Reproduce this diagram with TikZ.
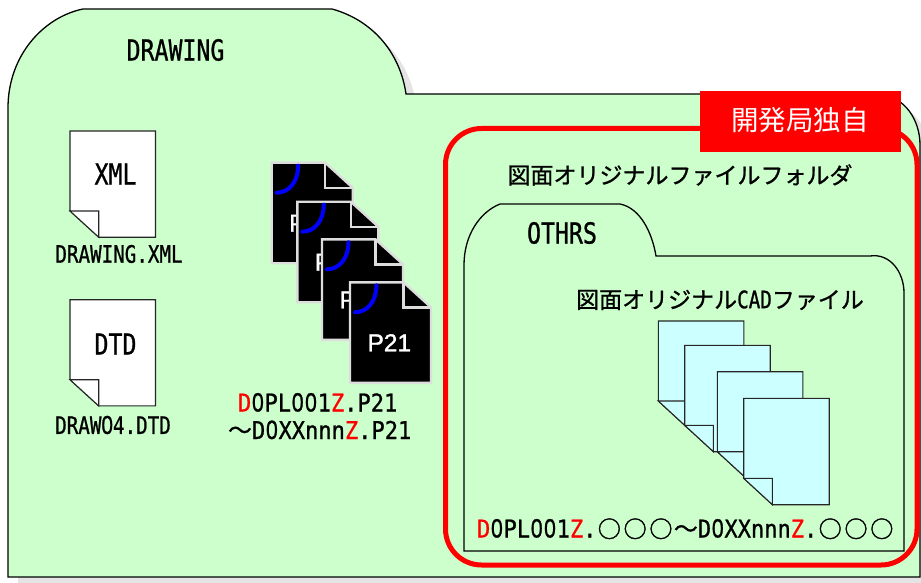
\documentclass[tikz,border=0pt]{standalone}
\usepackage{fontspec}
\setmainfont{Liberation Sans}
\newfontfamily\cjk[FakeBold=1]{Noto Sans CJK JP}
\newfontfamily\cjkc[FakeBold=1.6]{Noto Sans CJK JP}
\newfontfamily\cjkl{Noto Sans CJK JP}
\newfontfamily\hwA[FakeStretch=.8,FakeBold=.9]{DejaVu Sans Mono}
\newfontfamily\hwB[FakeStretch=.9,FakeBold=.9]{DejaVu Sans Mono}
\newfontfamily\zf[FakeStretch=.8,Scale=1.08,FakeBold=.9]{Liberation Sans}
\newfontfamily\pf[FakeBold=1.4]{Liberation Sans}
\newcommand\zr{\setbox0\hbox{0}\hbox to\wd0{\hss{\zf 0}\hss}}
\newcommand\rd[1]{\textcolor{red}{#1}}
\newcommand\fs[1]{\fontsize{#1}{#1}\selectfont}
\newcommand\cir{\hbox to 25.8pt{\hss{\cjkc\fs{23}○}\hss}}
\newcommand\tld{\hbox to 24pt{\hss{\cjk\fs{24}〜}\hss}}
\definecolor{fgreen}{HTML}{CCFFCC}
\definecolor{fblue}{HTML}{CCFFFF}
\definecolor{fshadow}{HTML}{E4E4E4}
\definecolor{pgedge}{HTML}{DDDDDD}
\tikzset{
  folderline/.style={draw=black,line width=1.3pt,fill=fgreen},
  sheetline/.style={draw=black!85,line width=1.1pt},
  txt/.style={inner sep=0pt,outer sep=0pt},
}
% fold-corner sheet: #1 x, #2 y, #3 fill, #4 w, #5 h
\newcommand\sheet[5]{%
  \begin{scope}[shift={(#1,#2)}]
    \path[sheetline,fill=#3] (0,0) -- (#4,0) -- (#4,#5) -- (28.7,#5) -- (0,80) -- cycle;
    \path[sheetline,fill=#3] (0,80) -- (28.7,80) -- (28.7,#5) -- cycle;
  \end{scope}}
% black P21 sheet
\newcommand\psheet[3]{%
  \begin{scope}[shift={(#1,#2)}]
    \path[draw=pgedge,line width=2.4pt,fill=black,line join=miter]
      (0,0) -- (53.5,0) -- (81,25) -- (81,100.5) -- (0,100.5) -- cycle;
    \path[draw=pgedge,line width=2.4pt] (53.5,0) -- (53.5,25) -- (81,25);
    \draw[blue,line width=4pt,line cap=round] (26.5,3) .. controls (26.5,18) and (18,30) .. (5,30);
    \node[txt,text=white,anchor=base west,font=\pf\fs{24.5}] (#3) at (17.5,69) {P21};
  \end{scope}}
\begin{document}
\begin{tikzpicture}[x=1pt,y=-1pt]
\clip (0,0) rectangle (921,583);
\fill[white] (0,0) rectangle (921,583);
% main folder
\def\mainfolder{(8,108) .. controls (8,55) and (44,17) .. (83,9) -- (332,9)
  .. controls (372,20) and (400,52) .. (406,94) -- (880,94)
  .. controls (905,97) and (920,120) .. (920,145) -- (920,577) -- (8,577) -- cycle}
\fill[fshadow,shift={(10,10)}] \mainfolder;
\path[folderline] \mainfolder;
% white sheets
\sheet{70}{131}{white}{85.5}{106.2}
\sheet{70}{299.7}{white}{85.5}{106.2}
\node[txt,font=\hwA\fs{29}] (xml) at (115.5,174) {XML};
\node[txt,font=\hwA\fs{29}] (dtd) at (115.5,344) {DTD};
\node[txt,font=\hwA\fs{24}] (xmlname) at (119,254) {DRAWING.XML};
\node[txt,font=\hwA\fs{24}] (dtdname) at (113,425) {DRAW\zr4.DTD};
\node[txt,font=\hwA\fs{29}] (drawing) at (175.5,50) {DRAWING};
% black sheets
\psheet{271.7}{162.7}{pa}
\psheet{297.3}{201.7}{pb}
\psheet{322}{239.3}{pc}
\psheet{350}{282.3}{pd}
\node[txt,anchor=base west,font=\hwB\fs{24.5}] (pone) at (238,411.5) {\rd{D}\zr PL\zr\zr1\rd{Z}.P21};
\node[txt,anchor=base west,font=\hwB\fs{24.5}] (ptwo) at (228,439) {\tld D\zr XXnnn\rd{Z}.P21};
% red frame
\draw[red,line width=5pt,rounded corners=36pt] (445.5,128.5) rectangle (917,565);
\fill[red] (700,91) rectangle (901,152);
\node[txt,text=white,font=\cjkl\fs{27.5}] (dev) at (800,120) {開発局独自};
\node[txt,font=\cjk\fs{23}] (ofold) at (680,175) {図面オリジナルファイルフォルダ};
% OTHRS folder
\path[folderline] (464,265) .. controls (464,235) and (480,212) .. (500,204) -- (620,204)
  .. controls (640,208) and (652,232) .. (656,256) -- (870,256)
  .. controls (890,253) and (904,272) .. (904,293) -- (904,551) -- (464,551) -- cycle;
\node[txt,font=\hwA\fs{29}] (othrs) at (562,233) {OTHRS};
\node[txt,font=\cjk\fs{23}] (ocad) at (720,300) {図面オリジナル{\hwA\fs{24}CAD}ファイル};
% blue sheets
\sheet{658.3}{321}{fblue}{85.5}{106.4}
\sheet{684.7}{345.3}{fblue}{85.5}{106.4}
\sheet{717.3}{371.7}{fblue}{85.5}{106.4}
\sheet{743.7}{398.3}{fblue}{85.5}{106.4}
\node[txt,anchor=base west,font=\hwB\fs{24.5}] (names) at (477,537.5)
  {\rd{D}\zr PL\zr\zr1\rd{Z}.\cir\cir\cir\tld D\zr XXnnn\rd{Z}.\cir\cir\cir};
\end{tikzpicture}
\end{document}
